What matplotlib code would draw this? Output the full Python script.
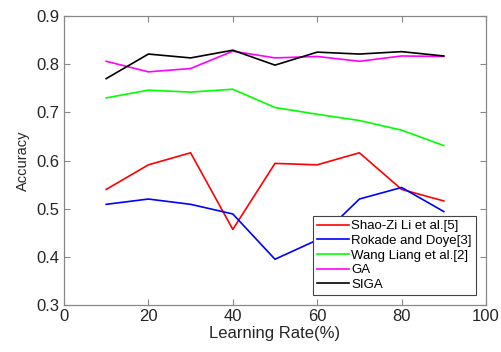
import matplotlib
matplotlib.use("Agg")
import matplotlib.pyplot as plt

plt.rcParams['font.family'] = ['Liberation Sans', 'DejaVu Sans']

rates = [10, 20, 30, 40, 50, 60, 70, 80, 90]
shao = [0.540, 0.591, 0.616, 0.457, 0.594, 0.591, 0.616, 0.540, 0.516]
rokade = [0.509, 0.520, 0.509, 0.489, 0.395, 0.435, 0.520, 0.544, 0.494]
wang = [0.730, 0.746, 0.742, 0.748, 0.710, 0.696, 0.683, 0.663, 0.631]
ga = [0.806, 0.784, 0.791, 0.827, 0.813, 0.816, 0.806, 0.817, 0.816]
siga = [0.770, 0.821, 0.813, 0.829, 0.798, 0.825, 0.821, 0.826, 0.817]

labels = ['Shao-Zi Li et al.[5]', 'Rokade and Doye[3]', 'Wang Liang et al.[2]', 'GA', 'SIGA']
colors = ['#ff0000', '#0000ff', '#00ff00', '#ff00ff', '#000000']
series = [shao, rokade, wang, ga, siga]

fig = plt.figure(figsize=(5.01, 3.52), dpi=100)
ax = fig.add_axes([64/501, 47/352, 422/501, 289/352])

for s, c, l in zip(series, colors, labels):
    ax.plot(rates, s, color=c, lw=1.2, label=l)

ax.set_xlim(0, 100)
ax.set_ylim(0.3, 0.9)
ax.set_xticks([0, 20, 40, 60, 80, 100])
ax.set_yticks([0.3, 0.4, 0.5, 0.6, 0.7, 0.8, 0.9])
ax.set_yticklabels(['0.3', '0.4', '0.5', '0.6', '0.7', '0.8', '0.9'])
ax.tick_params(direction='in', top=True, right=True, length=4, width=0.8,
               color='#888888', labelsize=12, labelcolor='#262626', pad=3)
for sp in ax.spines.values():
    sp.set_color('#888888')
    sp.set_linewidth(0.9)

ax.set_xlabel('Learning Rate(%)', fontsize=12, color='#262626', labelpad=1)
ax.set_ylabel('Accuracy', fontsize=10.5, color='#262626', labelpad=5)

leg = ax.legend(loc='lower right', bbox_to_anchor=(0.976, 0.035), borderaxespad=0,
                fontsize=9.5, fancybox=False, framealpha=1, edgecolor='#444444',
                handlelength=2.4, labelspacing=0.18, handletextpad=0.2,
                borderpad=0.3)
leg.get_frame().set_linewidth(0.8)

fig.savefig('out.png', dpi=100)
